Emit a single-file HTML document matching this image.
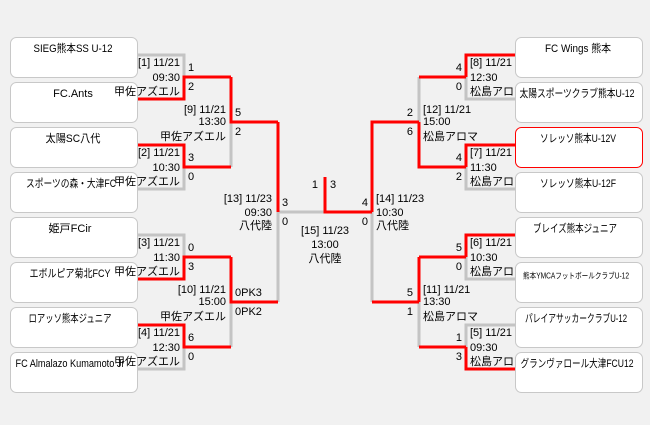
<!DOCTYPE html>
<html><head><meta charset="utf-8"><style>
html,body{margin:0;padding:0;background:#f1f1f1;}
svg{display:block;}
text{font-family:"Liberation Sans","Noto Sans CJK JP",sans-serif;font-size:11px;fill:#000;}
</style></head><body>
<svg width="650" height="425" viewBox="0 0 650 425" xmlns="http://www.w3.org/2000/svg">
<rect width="650" height="425" fill="#f1f1f1"/>
<g fill="none" stroke-width="3">
<g stroke="#c4c4c4">
<path d="M137,55 H184 V77"/>
<path d="M137,189 H184 V167"/>
<path d="M137,235 H184 V257"/>
<path d="M137,369 H184 V347"/>
<path d="M231,122 V167"/>
<path d="M231,302 V347"/>
<path d="M278,212 V302"/>
<path d="M278,212 H325"/>
<path d="M372,212 V302"/>
<path d="M419,77 V122"/>
<path d="M419,302 V347"/>
<path d="M466,77 V99 H515"/>
<path d="M466,167 V189 H515"/>
<path d="M466,257 V279 H515"/>
<path d="M515,325 H466 V347"/>
</g>
<g stroke="#ff0000">
<path d="M137,99 H184 V77 H231"/>
<path d="M137,145 H184 V167 H231"/>
<path d="M137,279 H184 V257 H231"/>
<path d="M137,325 H184 V347 H231"/>
<path d="M231,77 V122 H278"/>
<path d="M231,257 V302 H278"/>
<path d="M278,122 V212"/>
<path d="M325,177 V212 H372"/>
<path d="M372,212 V122 H419"/>
<path d="M372,302 H419"/>
<path d="M419,122 V167 H466"/>
<path d="M419,77 H466"/>
<path d="M419,257 H466"/>
<path d="M419,257 V302"/>
<path d="M419,347 H466"/>
<path d="M515,55 H466 V77"/>
<path d="M515,145 H466 V167"/>
<path d="M515,235 H466 V257"/>
<path d="M466,347 V369 H515"/>
</g>
</g>
<g fill="#fff" stroke="#c8c8c8" stroke-width="1">
<rect x="10.5" y="37.5" width="127" height="40" rx="6"/>
<rect x="10.5" y="82.5" width="127" height="40" rx="6"/>
<rect x="10.5" y="127.5" width="127" height="40" rx="6"/>
<rect x="10.5" y="172.5" width="127" height="40" rx="6"/>
<rect x="10.5" y="217.5" width="127" height="40" rx="6"/>
<rect x="10.5" y="262.5" width="127" height="40" rx="6"/>
<rect x="10.5" y="307.5" width="127" height="40" rx="6"/>
<rect x="10.5" y="352.5" width="127" height="40" rx="6"/>
</g>
<g text-anchor="middle" dominant-baseline="central">
<text x="73" y="49" textLength="79" lengthAdjust="spacingAndGlyphs">SIEG熊本SS U-12</text>
<text x="73" y="94">FC.Ants</text>
<text x="73" y="139" textLength="55" lengthAdjust="spacingAndGlyphs">太陽SC八代</text>
<text x="71" y="184" textLength="90" lengthAdjust="spacingAndGlyphs">スポーツの森・大津FC</text>
<text x="70" y="229" textLength="43" lengthAdjust="spacingAndGlyphs">姫戸FCir</text>
<text x="70" y="274" textLength="81" lengthAdjust="spacingAndGlyphs">エボルピア菊北FCY</text>
<text x="70" y="319" textLength="83" lengthAdjust="spacingAndGlyphs">ロアッソ熊本ジュニア</text>
<text x="70" y="364" textLength="109" lengthAdjust="spacingAndGlyphs">FC Almalazo Kumamoto Jr</text>
</g>
<g text-anchor="end" dominant-baseline="central">
<text x="180" y="63">[1] 11/21</text><text x="180" y="78">09:30</text><text x="180" y="92">甲佐アズエル</text>
<text x="180" y="153">[2] 11/21</text><text x="180" y="168">10:30</text><text x="180" y="182">甲佐アズエル</text>
<text x="180" y="243">[3] 11/21</text><text x="180" y="258">11:30</text><text x="180" y="272">甲佐アズエル</text>
<text x="180" y="333">[4] 11/21</text><text x="180" y="348">12:30</text><text x="180" y="362">甲佐アズエル</text>
<text x="226" y="110">[9] 11/21</text><text x="226" y="122">13:30</text><text x="226" y="137">甲佐アズエル</text>
<text x="226" y="290">[10] 11/21</text><text x="226" y="302">15:00</text><text x="226" y="317">甲佐アズエル</text>
<text x="272" y="199">[13] 11/23</text><text x="272" y="213">09:30</text><text x="272" y="226">八代陸</text>
<text x="318" y="185">1</text>
<text x="368" y="203">4</text><text x="368" y="222">0</text>
<text x="413" y="113">2</text><text x="413" y="132">6</text>
<text x="413" y="293">5</text><text x="413" y="312">1</text>
<text x="462" y="68">4</text><text x="462" y="87">0</text>
<text x="462" y="158">4</text><text x="462" y="177">2</text>
<text x="462" y="248">5</text><text x="462" y="267">0</text>
<text x="462" y="338">1</text><text x="462" y="357">3</text>
</g>
<g dominant-baseline="central">
<text x="188" y="68">1</text><text x="188" y="87">2</text>
<text x="188" y="158">3</text><text x="188" y="177">0</text>
<text x="188" y="248">0</text><text x="188" y="267">3</text>
<text x="188" y="338">6</text><text x="188" y="357">0</text>
<text x="235" y="113">5</text><text x="235" y="132">2</text>
<text x="235" y="293">0PK3</text><text x="235" y="312">0PK2</text>
<text x="282" y="203">3</text><text x="282" y="222">0</text>
<text x="330" y="185">3</text>
<text x="376" y="199">[14] 11/23</text><text x="376" y="213">10:30</text><text x="376" y="226">八代陸</text>
<text x="423" y="110">[12] 11/21</text><text x="423" y="122">15:00</text><text x="423" y="137">松島アロマ</text>
<text x="423" y="290">[11] 11/21</text><text x="423" y="302">13:30</text><text x="423" y="317">松島アロマ</text>
<text x="470" y="63">[8] 11/21</text><text x="470" y="78">12:30</text><text x="470" y="92">松島アロマ</text>
<text x="470" y="153">[7] 11/21</text><text x="470" y="168">11:30</text><text x="470" y="182">松島アロマ</text>
<text x="470" y="243">[6] 11/21</text><text x="470" y="258">10:30</text><text x="470" y="272">松島アロマ</text>
<text x="470" y="333">[5] 11/21</text><text x="470" y="348">09:30</text><text x="470" y="362">松島アロマ</text>
</g>
<g text-anchor="middle" dominant-baseline="central">
<text x="325" y="231">[15] 11/23</text><text x="325" y="245">13:00</text><text x="325" y="259">八代陸</text>
</g>
<g fill="#fff" stroke="#c8c8c8" stroke-width="1">
<rect x="515.5" y="37.5" width="127" height="40" rx="6"/>
<rect x="515.5" y="82.5" width="127" height="40" rx="6"/>
<rect x="515.5" y="127.5" width="127" height="40" rx="6" stroke="#ff0000"/>
<rect x="515.5" y="172.5" width="127" height="40" rx="6"/>
<rect x="515.5" y="217.5" width="127" height="40" rx="6"/>
<rect x="515.5" y="262.5" width="127" height="40" rx="6"/>
<rect x="515.5" y="307.5" width="127" height="40" rx="6"/>
<rect x="515.5" y="352.5" width="127" height="40" rx="6"/>
</g>
<g text-anchor="middle" dominant-baseline="central">
<text x="578" y="49" textLength="66" lengthAdjust="spacingAndGlyphs">FC Wings 熊本</text>
<text x="577" y="94" textLength="115" lengthAdjust="spacingAndGlyphs">太陽スポーツクラブ熊本U-12</text>
<text x="578" y="139" textLength="76" lengthAdjust="spacingAndGlyphs">ソレッソ熊本U-12V</text>
<text x="578" y="184" textLength="76" lengthAdjust="spacingAndGlyphs">ソレッソ熊本U-12F</text>
<text x="575" y="229" textLength="84" lengthAdjust="spacingAndGlyphs">ブレイズ熊本ジュニア</text>
<text x="576" y="276" style="font-size:8px" textLength="106" lengthAdjust="spacingAndGlyphs">熊本YMCAフットボールクラブU-12</text>
<text x="576" y="319" textLength="102" lengthAdjust="spacingAndGlyphs">パレイアサッカークラブU-12</text>
<text x="577" y="364" textLength="113" lengthAdjust="spacingAndGlyphs">グランヴァロール大津FCU12</text>
</g>
</svg>
</body></html>
